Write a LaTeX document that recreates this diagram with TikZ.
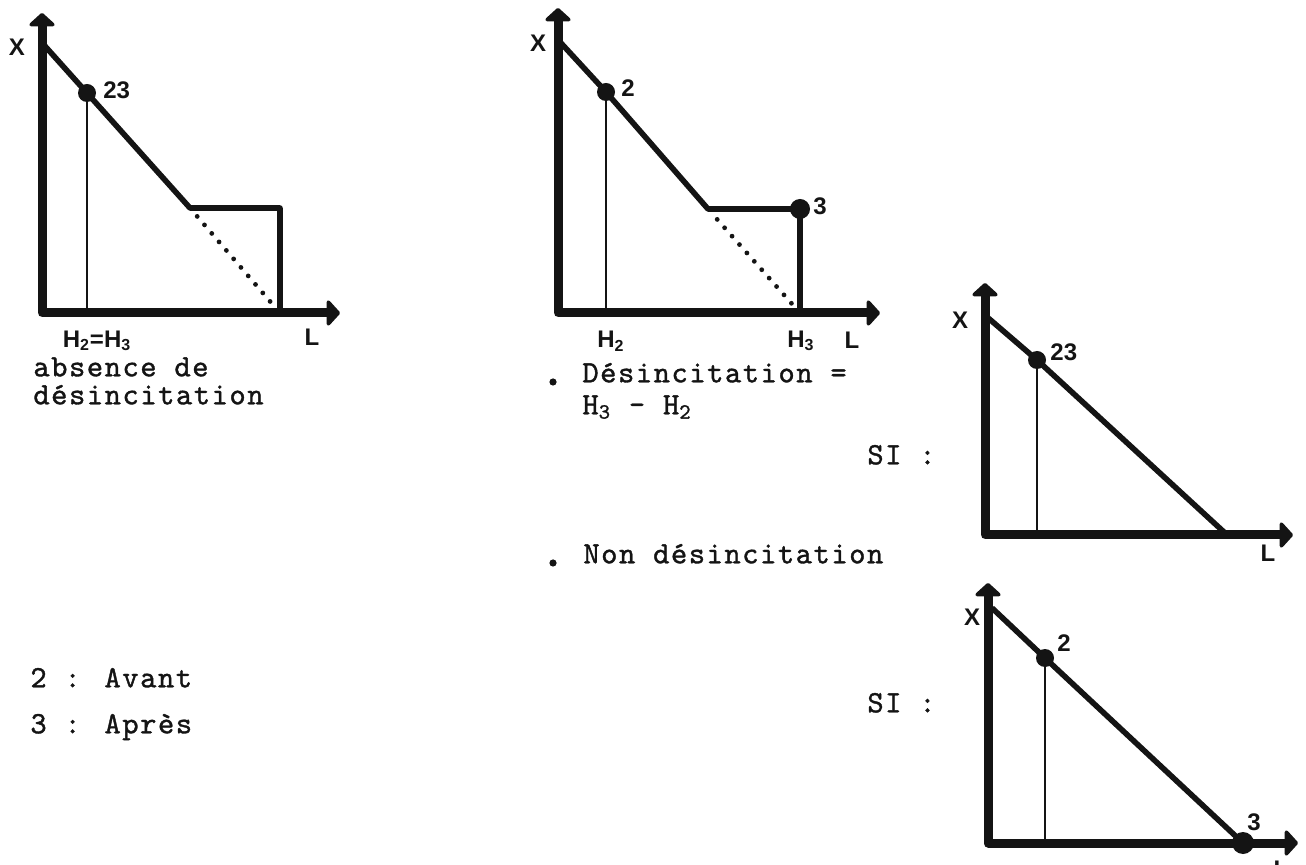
\documentclass[tikz,border=0pt]{standalone}
\usepackage{fontspec}
\setsansfont{Liberation Sans}
\newfontfamily\machine{lmmono10-regular.otf}[LetterSpace=5,FakeBold=1.2]
\usepackage{tikz}
\usetikzlibrary{arrows.meta,positioning,calc}
\definecolor{encre}{RGB}{20,20,20}

\begin{document}
\begin{tikzpicture}[x=0.5pt,y=-0.5pt,
  axe/.style={line width=4.5pt, line join=round, encre,
    {Triangle[round,length=7pt,width=15pt]}-{Triangle[round,length=7pt,width=15pt]}},
  courbe/.style={line width=2.8pt, line join=round, encre},
  rappel/.style={line width=0.7pt, encre},
  pointille/.style={line width=2.4pt, line cap=round, dash pattern=on 0pt off 5.6pt, encre},
  etat/.style={circle, fill=encre, inner sep=0pt, minimum size=9pt},
  puce/.style={circle, fill=encre, inner sep=0pt, minimum size=3.6pt},
  lbl/.style={font=\sffamily\bfseries\fontsize{12}{14}\selectfont, encre, inner sep=0pt},
  txt/.style={font=\machine\fontsize{15.5}{19}\selectfont, encre,
    inner sep=0pt, anchor=mid west}]
  \useasboundingbox (0,0) rectangle (1306,865);

  % Graph 1: H2 = H3, no disincentive
  \coordinate (O1) at (42,313);
  \coordinate (Y1) at (42,13);
  \coordinate (X1) at (340,313);
  \coordinate (A1) at (44,45);
  \coordinate (C1) at (190,208);
  \coordinate (R1) at (280,208);
  \coordinate (B1) at (280,313);
  \node[etat] (p23a) at (87,93) {};
  \draw[rappel] (p23a.center) -- (p23a.center |- O1);
  \draw[pointille] ($(C1)!0.08!(B1)$) -- ($(C1)!0.95!(B1)$);
  \draw[courbe] (A1) -- (p23a.center) -- (C1) -- (R1) -- (B1);
  \draw[axe] (Y1) -- (O1) -- (X1);
  \node[lbl] (x1) at (17,47) {X};
  \node[lbl, anchor=west] (n23a) at (103,90) {23};
  \node[lbl] (l1) at (312,337) {L};
  \node[lbl] (h1) at (97,341) {H\textsubscript{2}=H\textsubscript{3}};
  \node[txt] (abs1) at (33,372) {absence de};
  \node[txt] (abs2) at (33,400) {désincitation};

  % Graph 2: H3 moved to the right of H2
  \coordinate (O2) at (558,313);
  \coordinate (Y2) at (558,8);
  \coordinate (X2) at (880,313);
  \coordinate (A2) at (560,42);
  \coordinate (C2) at (708,209);
  \coordinate (B2) at (800,313);
  \node[etat] (p2a) at (606,92) {};
  \node[etat, minimum width=10pt, minimum height=8pt] (p3a) at (800,209) {};
  \draw[rappel] (p2a.center) -- (p2a.center |- O2);
  \draw[pointille] ($(C2)!0.1!(B2)$) -- ($(C2)!0.94!(B2)$);
  \draw[courbe] (A2) -- (p2a.center) -- (C2) -- (p3a.center);
  \draw[courbe, line width=3pt] (p3a.center) -- (B2);
  \draw[axe] (Y2) -- (O2) -- (X2);
  \node[lbl] (x2) at (538,43) {X};
  \node[lbl, anchor=west] (n2a) at (621,88) {2};
  \node[lbl, anchor=west] (n3a) at (813,206) {3};
  \node[lbl] (h2) at (611,341) {H\textsubscript{2}};
  \node[lbl] (h3) at (801,341) {H\textsubscript{3}};
  \node[lbl] (l2) at (852,340) {L};
  \node[puce] (b1) at (553,382) {};
  \node[txt] (des1) at (582,378) {Désincitation =};
  \node[txt] (des2) at (582,410) {H\textsubscript{3} - H\textsubscript{2}};
  \node[puce] (b2) at (553,563) {};
  \node[txt] (non) at (583,559) {Non désincitation};

  % Graph 3: SI, both points together
  \coordinate (O3) at (985,535);
  \coordinate (Y3) at (985,283);
  \coordinate (X3) at (1293,535);
  \coordinate (A3) at (987,317);
  \coordinate (E3) at (1225,533);
  \node[etat] (p23b) at (1037,360) {};
  \draw[rappel] (p23b.center) -- (p23b.center |- O3);
  \draw[courbe] (A3) -- (p23b.center) -- (E3);
  \draw[axe] (Y3) -- (O3) -- (X3);
  \node[lbl] (x3) at (960,320) {X};
  \node[lbl, anchor=west] (n23b) at (1050,352) {23};
  \node[lbl] (l3) at (1268,553) {L};
  \node[txt] (si1) at (867,460) {SI :};

  % Graph 4: SI, point 3 on the L axis
  \coordinate (O4) at (988,843);
  \coordinate (Y4) at (988,583);
  \coordinate (X4) at (1298,843);
  \coordinate (A4) at (992,608);
  \node[etat] (p2b) at (1045,658) {};
  \node[etat, minimum width=11pt] (p3b) at (1243,843) {};
  \draw[rappel] (p2b.center) -- (p2b.center |- O4);
  \draw[courbe] (A4) -- (p2b.center) -- (p3b.center);
  \draw[axe] (Y4) -- (O4) -- (X4);
  \node[lbl] (x4) at (972,617) {X};
  \node[lbl, anchor=west] (n2b) at (1057,643) {2};
  \node[lbl] (n3b) at (1254,822) {3};
  \node[lbl] (l4) at (1281,869) {L};
  \node[txt] (si2) at (867,708) {SI :};

  % legend
  \node[txt] (leg2) at (30,683) {2 : Avant};
  \node[txt] (leg3) at (30,729) {3 : Après};
\end{tikzpicture}
\end{document}
